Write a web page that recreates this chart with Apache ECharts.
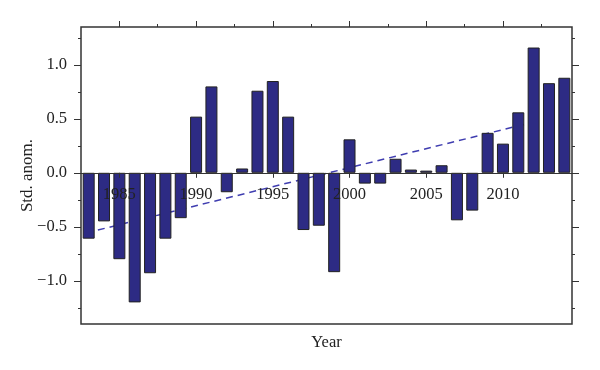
<!DOCTYPE html>
<html>
<head>
<meta charset="utf-8">
<script src="https://cdn.jsdelivr.net/npm/echarts@6/dist/echarts.min.js"></script>
<style>
  html, body { margin: 0; padding: 0; background: #fff; }
  #chart { width: 600px; height: 370px; }
</style>
</head>
<body>
<div id="chart"></div>
<script>
// ---- data ----
const years = [1983, 1984, 1985, 1986, 1987, 1988, 1989, 1990, 1991, 1992, 1993, 1994, 1995, 1996, 1997, 1998,
               1999, 2000, 2001, 2002, 2003, 2004, 2005, 2006, 2007, 2008, 2009, 2010, 2011, 2012, 2013, 2014];
const anomalies = [-0.61, -0.45, -0.80, -1.20, -0.93, -0.61, -0.42, 0.52, 0.80, -0.18, 0.04, 0.76, 0.85, 0.52, -0.53, -0.49,
                   -0.92, 0.31, -0.10, -0.10, 0.13, 0.03, 0.02, 0.07, -0.44, -0.35, 0.37, 0.27, 0.56, 1.16, 0.83, 0.88];
const trendX = [1983.6, 2012.0];
const trendY = [-0.53, 0.47];
const xTickLabels = [1985, 1990, 1995, 2000, 2005, 2010];
const xMinorTicks = [1987.5, 1992.5, 1997.5, 2002.5, 2007.5, 2012.5];
const yTickLabels = [-1.0, -0.5, 0.0, 0.5, 1.0];
const yMinorTicks = [-1.25, -0.75, -0.25, 0.25, 0.75, 1.25];

const FONT = 'Liberation Serif';
const AX = '#333';
const X_MIN = 1982.5, X_MAX = 2014.5, Y_MIN = -1.4, Y_MAX = 1.35;
const GRID = { left: 81, right: 28, top: 27, bottom: 46 };
const plotH = 370 - GRID.top - GRID.bottom;
const zeroOffset = -((0 - Y_MIN) / (Y_MAX - Y_MIN)) * plotH;

const chart = echarts.init(document.getElementById('chart'));

function xAx(pos, ticks, len, showLabels, extra) {
  return Object.assign({
    type: 'value', position: pos, min: X_MIN, max: X_MAX,
    axisLine: { show: false, onZero: false },
    axisTick: { show: true, inside: false, length: len, customValues: ticks, lineStyle: { color: AX, width: 1 } },
    axisLabel: showLabels ? {
      show: true, customValues: ticks, margin: 13, fontFamily: FONT, fontSize: 16.5, color: '#222',
      formatter: v => String(v)
    } : { show: false },
    splitLine: { show: false }
  }, extra || {});
}
function yAx(pos, ticks, len, showLabels) {
  return {
    type: 'value', position: pos, min: Y_MIN, max: Y_MAX,
    axisLine: { show: false, onZero: false },
    axisTick: { show: true, inside: false, length: len, customValues: ticks, lineStyle: { color: AX, width: 1 } },
    axisLabel: showLabels ? {
      show: true, customValues: ticks, margin: 14, fontFamily: FONT, fontSize: 16.5, color: '#222',
      formatter: v => (v < 0 ? '\u2212' : '') + Math.abs(v).toFixed(1)
    } : { show: false },
    splitLine: { show: false }
  };
}

const option = {
  animation: false,
  backgroundColor: '#fff',
  grid: Object.assign({ show: true, borderColor: AX, borderWidth: 1.5, backgroundColor: 'transparent' }, GRID),
  xAxis: [
    xAx('bottom', xTickLabels, 5, true, {
      zlevel: 1, z: 10,
      offset: zeroOffset,
      axisLine: { show: true, onZero: false, lineStyle: { color: AX, width: 1.2 } }
    }),
    xAx('top', xTickLabels, 6, false),
    xAx('top', xMinorTicks, 3, false)
  ],
  yAxis: [
    yAx('left', yTickLabels, 7, true),
    yAx('left', yMinorTicks, 3, false),
    yAx('right', yTickLabels, 7, false),
    yAx('right', yMinorTicks, 3, false)
  ],
  series: [
    {
      type: 'line', xAxisIndex: 0, yAxisIndex: 0, z: 1,
      data: trendX.map((x, i) => [x, trendY[i]]),
      symbol: 'none',
      lineStyle: { color: '#3f3db0', width: 1.5, type: [7, 5] }
    },
    {
      type: 'bar', xAxisIndex: 0, yAxisIndex: 0, z: 2,
      data: years.map((y, i) => [y, anomalies[i]]),
      barWidth: 12,
      itemStyle: { color: '#2d2b84', borderColor: '#222', borderWidth: 1 }
    }
  ],
  graphic: [
    { type: 'text', x: 326.5, y: 343, style: { text: 'Year', fontFamily: FONT, fontSize: 16.5, fill: '#222', textAlign: 'center', textVerticalAlign: 'middle' } },
    { type: 'text', x: 28, y: 175.5, rotation: Math.PI / 2, style: { text: 'Std. anom.', fontFamily: FONT, fontSize: 17, fill: '#222', textAlign: 'center', textVerticalAlign: 'middle' } }
  ]
};
chart.setOption(option);
</script>
</body>
</html>
